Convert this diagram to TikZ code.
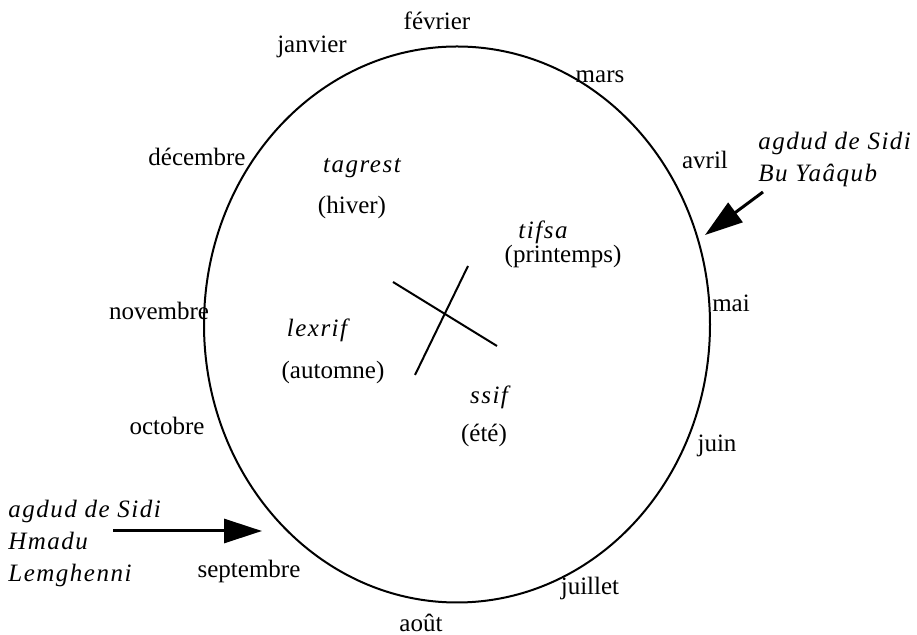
\documentclass[tikz,border=0pt]{standalone}
\usepackage{fontspec}
\setmainfont{Liberation Serif}
\newfontfamily\wideitalic[LetterSpace=6]{Liberation Serif}
\usetikzlibrary{shapes.geometric,arrows.meta}

\tikzset{
  month/.style={inner sep=0pt, font=\fontsize{12.5}{14}\selectfont},
  season/.style={inner sep=0pt, font=\fontsize{12.5}{14}\selectfont\wideitalic\itshape},
  saint/.style={inner sep=0pt, align=left, anchor=north west,
                font=\fontsize{12.5}{16}\selectfont\wideitalic\itshape},
  pointer/.style={line width=1.5pt, -{Triangle[length=19pt,width=12pt]}},
  axis/.style={line width=1pt}
}

\begin{document}
\begin{tikzpicture}[x=0.5pt, y=-0.5pt]
\useasboundingbox (0,0) rectangle (917,635);

% the year
\node[draw, ellipse, line width=1pt, inner sep=0pt,
      minimum width=253pt, minimum height=278pt] (year) at (457,324.5) {};

% months round the year
\node[month] (feb) at (437,21) {février};
\node[month] (jan) at (312,47) {janvier};
\node[month] (mar) at (600,77) {mars};
\node[month] (apr) at (705,160) {avril};
\node[month] (may) at (731,303) {mai};
\node[month] (jun) at (717,446) {juin};
\node[month] (jul) at (590,588) {juillet};
\node[month] (aug) at (421,623) {août};
\node[month] (sep) at (249,571) {septembre};
\node[month] (oct) at (167,426) {octobre};
\node[month] (nov) at (159,311) {novembre};
\node[month] (dec) at (197,157) {décembre};

% seasons
\node[season] (winter) at (362,168) {tagrest};
\node[month]  (winterfr) at (352,207) {(hiver)};
\node[season] (spring) at (543,232) {tifsa};
\node[month]  (springfr) at (563,256) {(printemps)};
\node[season] (autumn) at (317,330) {lexrif};
\node[month]  (autumnfr) at (333,372) {(automne)};
\node[season] (summer) at (489,397) {ssif};
\node[month]  (summerfr) at (484,435) {(été)};

% the cross
\coordinate (c1) at (393,282);
\coordinate (c2) at (497,346);
\coordinate (c3) at (468,266);
\coordinate (c4) at (415,375);
\draw[axis] (c1) -- (c2);
\draw[axis] (c3) -- (c4);

% the two agdud
\node[saint] (yaaqub) at (758,132) {agdud de Sidi\\Bu Yaâqub};
\coordinate (yaaqubtip) at (705,235);
\draw[pointer] (763,192) -- (yaaqubtip);

\node[saint] (hmadu) at (8,500) {agdud de Sidi\\Hmadu\\Lemghenni};
\coordinate (hmadutip) at (262,531);
\draw[pointer] (113,531) -- (hmadutip);
\end{tikzpicture}
\end{document}
